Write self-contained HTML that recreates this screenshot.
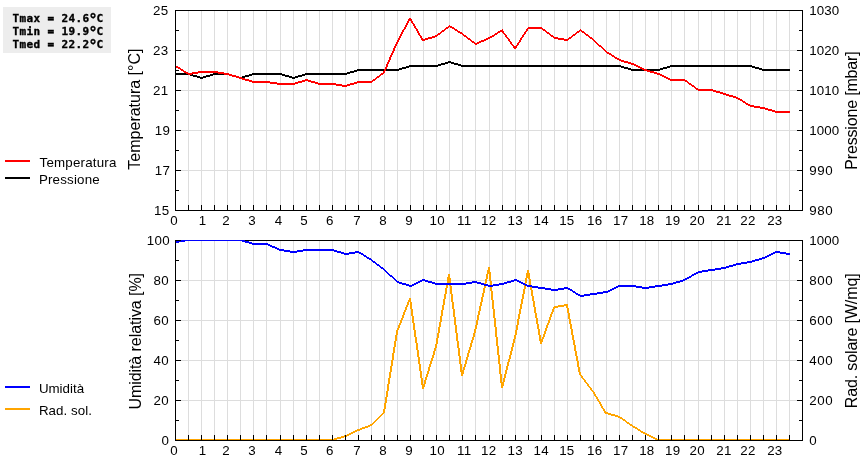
<!DOCTYPE html>
<html lang="it">
<head>
<meta charset="utf-8">
<title>Grafico meteo giornaliero</title>
<style>
html,body{margin:0;padding:0;background:#fff;}
body{width:860px;height:460px;overflow:hidden;}
svg{display:block;}
text{font-family:"Liberation Sans",Arial,Helvetica,sans-serif;fill:#000;}
.tl text{font-size:13.33px;letter-spacing:0.3px;}
.ti{font-size:16px;}
.dg{font-size:15px;}
.st{font-family:"DejaVu Sans Mono","Liberation Mono",monospace;font-size:11.0px;font-weight:bold;stroke:#000;stroke-width:0.35px;}
</style>
</head>
<body>
<svg width="860" height="460" viewBox="0 0 860 460">
<rect width="860" height="460" fill="#ffffff"/>
<rect x="3" y="7" width="108" height="46" fill="#ededed" shape-rendering="crispEdges"/>
<text class="st" x="12.6 19.6 26.6 33.6 40.6 47.6 54.6 61.6 68.6 75.6 82.6 89.6 96.6" y="22.00" xml:space="preserve">Tmax = 24.6<tspan class="dg" dx="-1.00" dy="2.60">°</tspan><tspan dy="-2.60">C</tspan></text>
<text class="st" x="12.6 19.6 26.6 33.6 40.6 47.6 54.6 61.6 68.6 75.6 82.6 89.6 96.6" y="35.00" xml:space="preserve">Tmin = 19.9<tspan class="dg" dx="-1.00" dy="2.60">°</tspan><tspan dy="-2.60">C</tspan></text>
<text class="st" x="12.6 19.6 26.6 33.6 40.6 47.6 54.6 61.6 68.6 75.6 82.6 89.6 96.6" y="48.00" xml:space="preserve">Tmed = 22.2<tspan class="dg" dx="-1.00" dy="2.60">°</tspan><tspan dy="-2.60">C</tspan></text>
<g shape-rendering="crispEdges">
<path fill="#dddddd" d="M188 11h1v199h-1zM201 11h1v199h-1zM214 11h1v199h-1zM227 11h1v199h-1zM240 11h1v199h-1zM253 11h1v199h-1zM266 11h1v199h-1zM280 11h1v199h-1zM293 11h1v199h-1zM306 11h1v199h-1zM319 11h1v199h-1zM332 11h1v199h-1zM345 11h1v199h-1zM358 11h1v199h-1zM371 11h1v199h-1zM384 11h1v199h-1zM397 11h1v199h-1zM410 11h1v199h-1zM423 11h1v199h-1zM436 11h1v199h-1zM449 11h1v199h-1zM462 11h1v199h-1zM475 11h1v199h-1zM489 11h1v199h-1zM502 11h1v199h-1zM515 11h1v199h-1zM528 11h1v199h-1zM541 11h1v199h-1zM554 11h1v199h-1zM567 11h1v199h-1zM580 11h1v199h-1zM593 11h1v199h-1zM606 11h1v199h-1zM619 11h1v199h-1zM632 11h1v199h-1zM645 11h1v199h-1zM658 11h1v199h-1zM671 11h1v199h-1zM684 11h1v199h-1zM698 11h1v199h-1zM711 11h1v199h-1zM724 11h1v199h-1zM737 11h1v199h-1zM750 11h1v199h-1zM763 11h1v199h-1zM776 11h1v199h-1zM789 11h1v199h-1zM176 50h626v1h-626zM176 90h626v1h-626zM176 130h626v1h-626zM176 170h626v1h-626z"/>
<rect x="175" y="10" width="628" height="1" fill="#000"/>
<path fill="#000000" d="M175 73h15v1h-15zM175 74h18v1h-18zM190 75h7v1h-7zM193 76h7v1h-7zM197 77h9v1h-9zM200 78h3v1h-3zM203 76h7v1h-7zM206 75h7v1h-7zM210 74h22v1h-22zM213 73h16v1h-16zM229 75h7v1h-7zM232 76h7v1h-7zM236 77h9v1h-9zM239 78h3v1h-3zM242 76h7v1h-7zM245 75h7v1h-7zM249 74h36v1h-36zM252 73h30v1h-30zM282 75h7v1h-7zM285 76h7v1h-7zM289 77h9v1h-9zM292 78h3v1h-3zM295 76h7v1h-7zM298 75h7v1h-7zM302 74h45v1h-45zM305 73h45v1h-45zM347 72h7v1h-7zM350 71h7v1h-7zM354 70h45v1h-45zM357 69h45v1h-45zM399 68h7v1h-7zM402 67h7v1h-7zM406 66h32v1h-32zM409 65h32v1h-32zM438 64h7v1h-7zM441 63h7v1h-7zM445 62h9v1h-9zM448 61h3v1h-3zM451 63h7v1h-7zM454 64h7v1h-7zM458 65h163v1h-163zM461 66h163v1h-163zM621 67h7v1h-7zM624 68h7v1h-7zM628 69h35v1h-35zM631 70h29v1h-29zM660 68h7v1h-7zM663 67h7v1h-7zM667 66h88v1h-88zM670 65h82v1h-82zM752 67h7v1h-7zM755 68h7v1h-7zM759 69h31v1h-31zM762 70h28v1h-28z"/>
<path fill="#ff0000" d="M175 65h1v1h-1zM175 66h3v1h-3zM176 67h4v1h-4zM178 68h3v1h-3zM180 69h3v1h-3zM181 70h3v1h-3zM183 71h3v1h-3zM184 72h4v1h-4zM186 73h12v1h-12zM188 74h4v1h-4zM192 72h32v1h-32zM198 71h20v1h-20zM218 73h11v1h-11zM224 74h8v1h-8zM229 75h7v1h-7zM232 76h7v1h-7zM236 77h6v1h-6zM239 78h6v1h-6zM242 79h7v1h-7zM245 80h7v1h-7zM249 81h21v1h-21zM252 82h25v1h-25zM270 83h28v1h-28zM277 84h18v1h-18zM295 82h7v1h-7zM298 81h7v1h-7zM302 80h9v1h-9zM305 79h3v1h-3zM308 81h7v1h-7zM311 82h7v1h-7zM315 83h21v1h-21zM318 84h24v1h-24zM336 85h14v1h-14zM342 86h5v1h-5zM347 84h7v1h-7zM350 83h7v1h-7zM354 82h18v1h-18zM357 81h16v1h-16zM372 80h3v1h-3zM373 79h3v1h-3zM375 78h2v1h-2zM376 77h3v1h-3zM377 76h3v1h-3zM379 75h2v1h-2zM380 74h3v1h-3zM381 73h3v1h-3zM383 71h2v2h-2zM384 69h2v2h-2zM385 67h2v2h-2zM386 64h2v3h-2zM387 62h2v2h-2zM388 60h2v2h-2zM389 57h2v3h-2zM390 55h2v2h-2zM391 53h2v2h-2zM392 51h2v2h-2zM393 48h2v3h-2zM394 46h2v2h-2zM395 44h2v2h-2zM396 42h2v2h-2zM397 40h2v2h-2zM398 38h2v2h-2zM399 36h2v2h-2zM400 34h2v2h-2zM401 32h2v2h-2zM402 30h2v2h-2zM403 29h2v1h-2zM404 27h2v2h-2zM405 25h2v2h-2zM406 23h2v2h-2zM407 21h2v2h-2zM408 19h4v2h-4zM409 18h2v1h-2zM411 21h2v2h-2zM412 23h2v1h-2zM413 24h2v2h-2zM414 26h2v2h-2zM415 28h2v1h-2zM416 29h2v2h-2zM417 31h2v2h-2zM418 33h2v2h-2zM419 35h2v1h-2zM420 36h2v2h-2zM421 38h2v1h-2zM421 39h7v1h-7zM422 40h3v1h-3zM425 38h7v1h-7zM428 37h7v1h-7zM432 36h5v1h-5zM435 35h3v1h-3zM437 34h3v1h-3zM438 33h3v1h-3zM440 32h2v1h-2zM441 31h3v1h-3zM442 30h3v1h-3zM444 29h2v1h-2zM445 28h3v1h-3zM446 27h3v1h-3zM448 26h4v1h-4zM449 25h1v1h-1zM450 27h4v1h-4zM452 28h3v1h-3zM454 29h3v1h-3zM455 30h3v1h-3zM457 31h3v1h-3zM458 32h4v1h-4zM460 33h3v1h-3zM462 34h2v1h-2zM463 35h3v1h-3zM464 36h3v1h-3zM466 37h2v1h-2zM467 38h3v1h-3zM468 39h3v1h-3zM470 40h2v1h-2zM471 41h3v1h-3zM472 42h3v1h-3zM474 43h5v1h-5zM475 44h2v1h-2zM477 42h4v1h-4zM479 41h5v1h-5zM481 40h5v1h-5zM484 39h4v1h-4zM486 38h4v1h-4zM488 37h4v1h-4zM490 36h4v1h-4zM492 35h3v1h-3zM494 34h3v1h-3zM495 33h3v1h-3zM497 32h3v1h-3zM498 31h6v1h-6zM500 30h3v1h-3zM502 29h1v1h-1zM502 32h2v1h-2zM503 33h2v1h-2zM504 34h2v1h-2zM505 35h2v2h-2zM506 37h2v1h-2zM507 38h2v1h-2zM508 39h2v2h-2zM509 41h2v1h-2zM510 42h2v2h-2zM511 44h2v1h-2zM512 45h2v1h-2zM513 46h4v2h-4zM514 48h2v1h-2zM516 45h2v1h-2zM517 43h2v2h-2zM518 42h2v1h-2zM519 40h2v2h-2zM520 38h2v2h-2zM521 37h2v1h-2zM522 35h2v2h-2zM523 34h2v1h-2zM524 32h2v2h-2zM525 31h2v1h-2zM526 29h2v2h-2zM527 28h16v1h-16zM528 27h14v1h-14zM542 29h3v1h-3zM543 30h3v1h-3zM545 31h2v1h-2zM546 32h3v1h-3zM547 33h3v1h-3zM549 34h2v1h-2zM550 35h3v1h-3zM551 36h3v1h-3zM553 37h5v1h-5zM554 38h10v1h-10zM558 39h11v1h-11zM564 40h4v1h-4zM568 38h3v1h-3zM569 37h3v1h-3zM571 36h2v1h-2zM572 35h3v1h-3zM573 34h3v1h-3zM575 33h2v1h-2zM576 32h3v1h-3zM577 31h3v1h-3zM579 30h3v1h-3zM580 29h1v1h-1zM581 31h3v1h-3zM582 32h3v1h-3zM584 33h2v1h-2zM585 34h3v1h-3zM586 35h3v1h-3zM588 36h2v1h-2zM589 37h3v1h-3zM590 38h3v1h-3zM592 39h2v1h-2zM593 40h2v1h-2zM594 41h2v1h-2zM595 42h2v1h-2zM596 43h2v1h-2zM597 44h2v1h-2zM598 45h3v1h-3zM599 46h3v1h-3zM601 47h2v1h-2zM602 48h2v1h-2zM603 49h2v1h-2zM604 50h2v1h-2zM605 51h2v1h-2zM606 52h3v1h-3zM607 53h4v1h-4zM609 54h3v1h-3zM611 55h3v1h-3zM612 56h3v1h-3zM614 57h3v1h-3zM615 58h4v1h-4zM617 59h4v1h-4zM619 60h5v1h-5zM621 61h7v1h-7zM624 62h7v1h-7zM628 63h6v1h-6zM631 64h5v1h-5zM634 65h4v1h-4zM636 66h4v1h-4zM638 67h4v1h-4zM640 68h4v1h-4zM642 69h5v1h-5zM644 70h6v1h-6zM647 71h7v1h-7zM650 72h7v1h-7zM654 73h6v1h-6zM657 74h5v1h-5zM660 75h4v1h-4zM662 76h4v1h-4zM664 77h4v1h-4zM666 78h4v1h-4zM668 79h17v1h-17zM670 80h17v1h-17zM685 81h3v1h-3zM687 82h2v1h-2zM688 83h3v1h-3zM689 84h3v1h-3zM691 85h3v1h-3zM692 86h3v1h-3zM694 87h2v1h-2zM695 88h3v1h-3zM696 89h17v1h-17zM698 90h18v1h-18zM713 91h7v1h-7zM716 92h7v1h-7zM720 93h6v1h-6zM723 94h6v1h-6zM726 95h7v1h-7zM729 96h7v1h-7zM733 97h5v1h-5zM736 98h4v1h-4zM738 99h4v1h-4zM740 100h3v1h-3zM742 101h3v1h-3zM743 102h3v1h-3zM745 103h3v1h-3zM746 104h4v1h-4zM748 105h6v1h-6zM750 106h10v1h-10zM754 107h11v1h-11zM760 108h8v1h-8zM765 109h7v1h-7zM768 110h7v1h-7zM772 111h18v1h-18zM775 112h15v1h-15z"/>
<path fill="#000" d="M175 10h1v201h-1zM802 10h1v201h-1zM175 210h628v1h-628zM188 205h1v5h-1zM201 205h1v5h-1zM214 205h1v5h-1zM227 205h1v5h-1zM240 205h1v5h-1zM253 205h1v5h-1zM266 205h1v5h-1zM280 205h1v5h-1zM293 205h1v5h-1zM306 205h1v5h-1zM319 205h1v5h-1zM332 205h1v5h-1zM345 205h1v5h-1zM358 205h1v5h-1zM371 205h1v5h-1zM384 205h1v5h-1zM397 205h1v5h-1zM410 205h1v5h-1zM423 205h1v5h-1zM436 205h1v5h-1zM449 205h1v5h-1zM462 205h1v5h-1zM475 205h1v5h-1zM489 205h1v5h-1zM502 205h1v5h-1zM515 205h1v5h-1zM528 205h1v5h-1zM541 205h1v5h-1zM554 205h1v5h-1zM567 205h1v5h-1zM580 205h1v5h-1zM593 205h1v5h-1zM606 205h1v5h-1zM619 205h1v5h-1zM632 205h1v5h-1zM645 205h1v5h-1zM658 205h1v5h-1zM671 205h1v5h-1zM684 205h1v5h-1zM698 205h1v5h-1zM711 205h1v5h-1zM724 205h1v5h-1zM737 205h1v5h-1zM750 205h1v5h-1zM763 205h1v5h-1zM776 205h1v5h-1zM789 205h1v5h-1zM176 10h5v1h-5zM797 10h5v1h-5zM176 30h3v1h-3zM799 30h3v1h-3zM176 50h5v1h-5zM797 50h5v1h-5zM176 70h3v1h-3zM799 70h3v1h-3zM176 90h5v1h-5zM797 90h5v1h-5zM176 110h3v1h-3zM799 110h3v1h-3zM176 130h5v1h-5zM797 130h5v1h-5zM176 150h3v1h-3zM799 150h3v1h-3zM176 170h5v1h-5zM797 170h5v1h-5zM176 190h3v1h-3zM799 190h3v1h-3zM176 210h5v1h-5zM797 210h5v1h-5z"/>
</g>
<g class="tl">
<text x="168.50" y="15" text-anchor="end">25</text>
<text x="168.50" y="55" text-anchor="end">23</text>
<text x="168.50" y="95" text-anchor="end">21</text>
<text x="170.30" y="135" text-anchor="end">19</text>
<text x="170.30" y="175" text-anchor="end">17</text>
<text x="169.40" y="215" text-anchor="end">15</text>
<text x="809.20" y="15" style="letter-spacing:0.15px">1030</text>
<text x="809.20" y="55" style="letter-spacing:0.15px">1020</text>
<text x="809.20" y="95" style="letter-spacing:0.15px">1010</text>
<text x="809.20" y="135" style="letter-spacing:0.15px">1000</text>
<text x="809.20" y="175" style="letter-spacing:0.65px">990</text>
<text x="809.20" y="215" style="letter-spacing:0.65px">980</text>
<text x="174.15" y="225" text-anchor="middle">0</text>
<text x="202.55" y="225" text-anchor="middle">1</text>
<text x="226.05" y="225" text-anchor="middle">2</text>
<text x="252.05" y="225" text-anchor="middle">3</text>
<text x="278.55" y="225" text-anchor="middle">4</text>
<text x="304.15" y="225" text-anchor="middle">5</text>
<text x="329.95" y="225" text-anchor="middle">6</text>
<text x="357.05" y="225" text-anchor="middle">7</text>
<text x="383.15" y="225" text-anchor="middle">8</text>
<text x="409.15" y="225" text-anchor="middle">9</text>
<text x="437.15" y="225" text-anchor="middle">10</text>
<text x="464.15" y="225" text-anchor="middle">11</text>
<text x="488.65" y="225" text-anchor="middle">12</text>
<text x="515.15" y="225" text-anchor="middle">13</text>
<text x="541.15" y="225" text-anchor="middle">14</text>
<text x="566.85" y="225" text-anchor="middle">15</text>
<text x="594.75" y="225" text-anchor="middle">16</text>
<text x="620.65" y="225" text-anchor="middle">17</text>
<text x="646.85" y="225" text-anchor="middle">18</text>
<text x="672.65" y="225" text-anchor="middle">19</text>
<text x="697.15" y="225" text-anchor="middle">20</text>
<text x="723.95" y="225" text-anchor="middle">21</text>
<text x="748.05" y="225" text-anchor="middle">22</text>
<text x="774.85" y="225" text-anchor="middle">23</text>
</g>
<text class="ti" text-anchor="middle" style="letter-spacing:0.000px" transform="translate(139.9 109.1) rotate(-90)">Temperatura [°C]</text>
<text class="ti" text-anchor="middle" style="letter-spacing:-0.175px" transform="translate(857.0 110.6) rotate(-90)">Pressione [mbar]</text>
<g shape-rendering="crispEdges">
<path fill="#dddddd" d="M188 241h1v199h-1zM201 241h1v199h-1zM214 241h1v199h-1zM227 241h1v199h-1zM240 241h1v199h-1zM253 241h1v199h-1zM266 241h1v199h-1zM280 241h1v199h-1zM293 241h1v199h-1zM306 241h1v199h-1zM319 241h1v199h-1zM332 241h1v199h-1zM345 241h1v199h-1zM358 241h1v199h-1zM371 241h1v199h-1zM384 241h1v199h-1zM397 241h1v199h-1zM410 241h1v199h-1zM423 241h1v199h-1zM436 241h1v199h-1zM449 241h1v199h-1zM462 241h1v199h-1zM475 241h1v199h-1zM489 241h1v199h-1zM502 241h1v199h-1zM515 241h1v199h-1zM528 241h1v199h-1zM541 241h1v199h-1zM554 241h1v199h-1zM567 241h1v199h-1zM580 241h1v199h-1zM593 241h1v199h-1zM606 241h1v199h-1zM619 241h1v199h-1zM632 241h1v199h-1zM645 241h1v199h-1zM658 241h1v199h-1zM671 241h1v199h-1zM684 241h1v199h-1zM698 241h1v199h-1zM711 241h1v199h-1zM724 241h1v199h-1zM737 241h1v199h-1zM750 241h1v199h-1zM763 241h1v199h-1zM776 241h1v199h-1zM789 241h1v199h-1zM176 280h626v1h-626zM176 320h626v1h-626zM176 360h626v1h-626zM176 400h626v1h-626z"/>
<rect x="175" y="240" width="628" height="1" fill="#000"/>
<path fill="#ffa500" d="M175 440h159v1h-159zM175 439h162v1h-162zM334 438h7v1h-7zM337 437h7v1h-7zM341 436h6v1h-6zM344 435h5v1h-5zM347 434h4v1h-4zM349 433h4v1h-4zM351 432h4v1h-4zM353 431h4v1h-4zM355 430h5v1h-5zM357 429h5v1h-5zM360 428h5v1h-5zM362 427h6v1h-6zM365 426h5v1h-5zM368 425h4v1h-4zM370 424h3v1h-3zM372 423h2v1h-2zM373 422h2v1h-2zM374 421h2v1h-2zM375 420h2v1h-2zM376 419h2v1h-2zM377 418h2v1h-2zM378 417h2v1h-2zM379 416h2v1h-2zM380 415h2v1h-2zM381 414h2v1h-2zM382 413h2v1h-2zM383 409h2v4h-2zM384 403h2v6h-2zM385 397h2v6h-2zM386 391h2v6h-2zM387 384h2v7h-2zM388 378h2v6h-2zM389 372h2v6h-2zM390 366h2v6h-2zM391 360h2v6h-2zM392 353h2v7h-2zM393 347h2v6h-2zM394 341h2v6h-2zM395 335h2v6h-2zM396 330h2v5h-2zM397 328h2v2h-2zM398 325h2v3h-2zM399 323h2v2h-2zM400 320h2v3h-2zM401 318h2v2h-2zM402 315h2v3h-2zM403 312h2v3h-2zM404 310h2v2h-2zM405 307h2v3h-2zM406 305h2v2h-2zM407 302h2v3h-2zM408 300h3v2h-3zM409 298h2v2h-2zM410 302h2v7h-2zM411 309h2v7h-2zM412 316h2v7h-2zM413 323h2v7h-2zM414 330h2v7h-2zM415 337h2v6h-2zM416 343h2v7h-2zM417 350h2v7h-2zM418 357h2v7h-2zM419 364h2v7h-2zM420 371h2v7h-2zM421 378h2v6h-2zM421 384h4v1h-4zM422 387h2v2h-2zM422 385h3v2h-3zM424 380h2v4h-2zM425 377h2v3h-2zM426 374h2v3h-2zM427 371h2v3h-2zM428 367h2v4h-2zM429 364h2v3h-2zM430 361h2v3h-2zM431 358h2v3h-2zM432 355h2v3h-2zM433 351h2v4h-2zM434 348h2v3h-2zM435 344h2v4h-2zM436 338h2v6h-2zM437 333h2v5h-2zM438 327h2v6h-2zM439 322h2v5h-2zM440 316h2v6h-2zM441 310h2v6h-2zM442 305h2v5h-2zM443 299h2v6h-2zM444 294h2v5h-2zM445 288h2v6h-2zM446 283h2v5h-2zM447 277h3v1h-3zM447 278h4v5h-4zM448 274h2v3h-2zM449 283h2v3h-2zM450 286h2v8h-2zM451 294h2v8h-2zM452 302h2v7h-2zM453 309h2v8h-2zM454 317h2v8h-2zM455 325h2v8h-2zM456 333h2v8h-2zM457 341h2v7h-2zM458 348h2v8h-2zM459 356h2v8h-2zM460 364h2v6h-2zM460 370h4v2h-4zM461 374h2v2h-2zM461 372h3v2h-3zM463 367h2v3h-2zM464 364h2v3h-2zM465 360h2v4h-2zM466 357h2v3h-2zM467 353h2v4h-2zM468 350h2v3h-2zM469 347h2v3h-2zM470 343h2v4h-2zM471 340h2v3h-2zM472 337h2v3h-2zM473 333h2v4h-2zM474 329h2v4h-2zM475 325h2v4h-2zM476 320h2v5h-2zM477 315h2v5h-2zM478 311h2v4h-2zM479 306h2v5h-2zM480 302h2v4h-2zM481 297h2v5h-2zM482 293h2v4h-2zM483 288h2v5h-2zM484 283h2v5h-2zM485 279h2v4h-2zM486 274h2v5h-2zM487 270h3v2h-3zM487 272h4v2h-4zM488 267h2v3h-2zM489 274h2v7h-2zM490 281h2v10h-2zM491 291h2v9h-2zM492 300h2v9h-2zM493 309h2v9h-2zM494 318h2v9h-2zM495 327h2v10h-2zM496 337h2v9h-2zM497 346h2v9h-2zM498 355h2v9h-2zM499 364h2v10h-2zM500 374h2v8h-2zM500 382h4v1h-4zM501 386h2v2h-2zM501 383h3v3h-3zM503 378h2v4h-2zM504 374h2v4h-2zM505 370h2v4h-2zM506 366h2v4h-2zM507 362h2v4h-2zM508 359h2v3h-2zM509 355h2v4h-2zM510 351h2v4h-2zM511 347h2v4h-2zM512 343h2v4h-2zM513 339h2v4h-2zM514 335h2v4h-2zM515 330h2v5h-2zM516 325h2v5h-2zM517 319h2v6h-2zM518 314h2v5h-2zM519 309h2v5h-2zM520 304h2v5h-2zM521 299h2v5h-2zM522 294h2v5h-2zM523 289h2v5h-2zM524 283h2v6h-2zM525 278h2v5h-2zM526 273h4v5h-4zM527 270h2v3h-2zM528 278h2v1h-2zM529 279h2v6h-2zM530 285h2v5h-2zM531 290h2v6h-2zM532 296h2v5h-2zM533 301h2v6h-2zM534 307h2v6h-2zM535 313h2v5h-2zM536 318h2v6h-2zM537 324h2v5h-2zM538 329h2v6h-2zM539 335h2v4h-2zM539 339h4v2h-4zM540 342h2v2h-2zM540 341h3v1h-3zM542 337h2v2h-2zM543 334h2v3h-2zM544 331h2v3h-2zM545 328h2v3h-2zM546 325h2v3h-2zM547 323h2v2h-2zM548 320h2v3h-2zM549 317h2v3h-2zM550 314h2v3h-2zM551 312h2v2h-2zM552 309h2v3h-2zM553 308h2v1h-2zM553 307h5v1h-5zM554 306h10v1h-10zM558 305h10v1h-10zM564 304h4v1h-4zM566 306h2v2h-2zM567 308h2v5h-2zM568 313h2v6h-2zM569 319h2v5h-2zM570 324h2v5h-2zM571 329h2v6h-2zM572 335h2v5h-2zM573 340h2v5h-2zM574 345h2v6h-2zM575 351h2v5h-2zM576 356h2v5h-2zM577 361h2v6h-2zM578 367h2v5h-2zM579 372h2v3h-2zM580 375h2v1h-2zM581 376h2v2h-2zM582 378h2v1h-2zM583 379h2v1h-2zM584 380h2v2h-2zM585 382h2v1h-2zM586 383h2v1h-2zM587 384h2v2h-2zM588 386h2v1h-2zM589 387h2v1h-2zM590 388h2v2h-2zM591 390h2v1h-2zM592 391h2v1h-2zM593 392h2v2h-2zM594 394h2v2h-2zM595 396h2v1h-2zM596 397h2v2h-2zM597 399h2v2h-2zM598 401h2v1h-2zM599 402h2v2h-2zM600 404h2v2h-2zM601 406h2v2h-2zM602 408h2v1h-2zM603 409h2v2h-2zM604 411h2v1h-2zM604 412h4v1h-4zM605 413h6v1h-6zM608 414h7v1h-7zM611 415h7v1h-7zM615 416h5v1h-5zM618 417h4v1h-4zM620 418h3v1h-3zM622 419h3v1h-3zM623 420h3v1h-3zM625 421h2v1h-2zM626 422h3v1h-3zM627 423h3v1h-3zM629 424h3v1h-3zM630 425h3v1h-3zM632 426h3v1h-3zM633 427h4v1h-4zM635 428h3v1h-3zM637 429h3v1h-3zM638 430h3v1h-3zM640 431h3v1h-3zM641 432h4v1h-4zM643 433h4v1h-4zM645 434h4v1h-4zM647 435h4v1h-4zM649 436h4v1h-4zM651 437h4v1h-4zM653 438h4v1h-4zM655 439h135v1h-135zM657 440h133v1h-133z"/>
<path fill="#0000ff" d="M175 242h4v1h-4zM175 241h10v1h-10zM179 240h66v1h-66zM242 241h7v1h-7zM245 242h7v1h-7zM249 243h19v1h-19zM252 244h18v1h-18zM268 245h4v1h-4zM270 246h5v1h-5zM272 247h5v1h-5zM275 248h4v1h-4zM277 249h7v1h-7zM279 250h11v1h-11zM284 251h19v1h-19zM290 252h7v1h-7zM297 250h40v1h-40zM303 249h31v1h-31zM334 251h7v1h-7zM337 252h7v1h-7zM341 253h14v1h-14zM344 254h5v1h-5zM349 252h12v1h-12zM355 251h4v1h-4zM359 253h4v1h-4zM361 254h3v1h-3zM363 255h3v1h-3zM364 256h3v1h-3zM366 257h3v1h-3zM367 258h4v1h-4zM369 259h3v1h-3zM371 260h2v1h-2zM372 261h3v1h-3zM373 262h3v1h-3zM375 263h2v1h-2zM376 264h3v1h-3zM377 265h3v1h-3zM379 266h2v1h-2zM380 267h3v1h-3zM381 268h3v1h-3zM383 269h2v1h-2zM384 270h2v1h-2zM385 271h2v1h-2zM386 272h2v1h-2zM387 273h2v1h-2zM388 274h2v1h-2zM389 275h3v1h-3zM390 276h3v1h-3zM392 277h2v1h-2zM393 278h2v1h-2zM394 279h2v1h-2zM395 280h2v1h-2zM396 281h3v1h-3zM397 282h5v1h-5zM399 283h7v1h-7zM402 284h7v1h-7zM406 285h8v1h-8zM409 286h3v1h-3zM412 284h4v1h-4zM414 283h4v1h-4zM416 282h4v1h-4zM418 281h4v1h-4zM420 280h8v1h-8zM422 279h3v1h-3zM425 281h7v1h-7zM428 282h7v1h-7zM432 283h40v1h-40zM435 284h31v1h-31zM466 282h15v1h-15zM472 281h5v1h-5zM477 283h7v1h-7zM481 284h7v1h-7zM484 285h15v1h-15zM488 286h5v1h-5zM493 284h11v1h-11zM499 283h8v1h-8zM504 282h7v1h-7zM507 281h7v1h-7zM511 280h8v1h-8zM514 279h3v1h-3zM517 281h4v1h-4zM519 282h4v1h-4zM521 283h4v1h-4zM523 284h4v1h-4zM525 285h7v1h-7zM527 286h11v1h-11zM532 287h13v1h-13zM538 288h13v1h-13zM545 289h19v1h-19zM551 290h7v1h-7zM558 288h12v1h-12zM564 287h4v1h-4zM568 289h4v1h-4zM570 290h3v1h-3zM572 291h3v1h-3zM573 292h3v1h-3zM575 293h3v1h-3zM576 294h4v1h-4zM578 295h12v1h-12zM580 296h4v1h-4zM584 294h13v1h-13zM590 293h13v1h-13zM597 292h11v1h-11zM603 291h7v1h-7zM608 290h4v1h-4zM610 289h4v1h-4zM612 288h4v1h-4zM614 287h4v1h-4zM616 286h26v1h-26zM618 285h18v1h-18zM636 287h19v1h-19zM642 288h7v1h-7zM649 286h13v1h-13zM655 285h13v1h-13zM662 284h11v1h-11zM668 283h8v1h-8zM673 282h7v1h-7zM676 281h7v1h-7zM680 280h5v1h-5zM683 279h4v1h-4zM685 278h4v1h-4zM687 277h4v1h-4zM689 276h3v1h-3zM691 275h3v1h-3zM692 274h4v1h-4zM694 273h4v1h-4zM696 272h6v1h-6zM698 271h10v1h-10zM702 270h13v1h-13zM708 269h13v1h-13zM715 268h11v1h-11zM721 267h8v1h-8zM726 266h7v1h-7zM729 265h7v1h-7zM733 264h8v1h-8zM736 263h11v1h-11zM741 262h11v1h-11zM747 261h8v1h-8zM752 260h7v1h-7zM755 259h7v1h-7zM759 258h6v1h-6zM762 257h5v1h-5zM765 256h4v1h-4zM767 255h4v1h-4zM769 254h4v1h-4zM771 253h4v1h-4zM773 252h13v1h-13zM775 251h5v1h-5zM780 253h10v1h-10zM786 254h4v1h-4z"/>
<path fill="#000" d="M175 240h1v201h-1zM802 240h1v201h-1zM175 440h628v1h-628zM188 435h1v5h-1zM201 435h1v5h-1zM214 435h1v5h-1zM227 435h1v5h-1zM240 435h1v5h-1zM253 435h1v5h-1zM266 435h1v5h-1zM280 435h1v5h-1zM293 435h1v5h-1zM306 435h1v5h-1zM319 435h1v5h-1zM332 435h1v5h-1zM345 435h1v5h-1zM358 435h1v5h-1zM371 435h1v5h-1zM384 435h1v5h-1zM397 435h1v5h-1zM410 435h1v5h-1zM423 435h1v5h-1zM436 435h1v5h-1zM449 435h1v5h-1zM462 435h1v5h-1zM475 435h1v5h-1zM489 435h1v5h-1zM502 435h1v5h-1zM515 435h1v5h-1zM528 435h1v5h-1zM541 435h1v5h-1zM554 435h1v5h-1zM567 435h1v5h-1zM580 435h1v5h-1zM593 435h1v5h-1zM606 435h1v5h-1zM619 435h1v5h-1zM632 435h1v5h-1zM645 435h1v5h-1zM658 435h1v5h-1zM671 435h1v5h-1zM684 435h1v5h-1zM698 435h1v5h-1zM711 435h1v5h-1zM724 435h1v5h-1zM737 435h1v5h-1zM750 435h1v5h-1zM763 435h1v5h-1zM776 435h1v5h-1zM789 435h1v5h-1zM176 240h5v1h-5zM797 240h5v1h-5zM176 260h3v1h-3zM799 260h3v1h-3zM176 280h5v1h-5zM797 280h5v1h-5zM176 300h3v1h-3zM799 300h3v1h-3zM176 320h5v1h-5zM797 320h5v1h-5zM176 340h3v1h-3zM799 340h3v1h-3zM176 360h5v1h-5zM797 360h5v1h-5zM176 380h3v1h-3zM799 380h3v1h-3zM176 400h5v1h-5zM797 400h5v1h-5zM176 420h3v1h-3zM799 420h3v1h-3zM176 440h5v1h-5zM797 440h5v1h-5z"/>
</g>
<g class="tl">
<text x="169.90" y="245" text-anchor="end">100</text>
<text x="169.00" y="285" text-anchor="end">80</text>
<text x="169.00" y="325" text-anchor="end">60</text>
<text x="169.00" y="365" text-anchor="end">40</text>
<text x="169.00" y="405" text-anchor="end">20</text>
<text x="169.30" y="445" text-anchor="end">0</text>
<text x="809.20" y="245" style="letter-spacing:0.15px">1000</text>
<text x="809.20" y="285" style="letter-spacing:0.65px">800</text>
<text x="809.20" y="325" style="letter-spacing:0.65px">600</text>
<text x="809.20" y="365" style="letter-spacing:0.65px">400</text>
<text x="809.20" y="405" style="letter-spacing:0.65px">200</text>
<text x="809.20" y="445">0</text>
<text x="174.15" y="455" text-anchor="middle">0</text>
<text x="202.55" y="455" text-anchor="middle">1</text>
<text x="226.05" y="455" text-anchor="middle">2</text>
<text x="252.05" y="455" text-anchor="middle">3</text>
<text x="278.55" y="455" text-anchor="middle">4</text>
<text x="304.15" y="455" text-anchor="middle">5</text>
<text x="329.95" y="455" text-anchor="middle">6</text>
<text x="357.05" y="455" text-anchor="middle">7</text>
<text x="383.15" y="455" text-anchor="middle">8</text>
<text x="409.15" y="455" text-anchor="middle">9</text>
<text x="437.15" y="455" text-anchor="middle">10</text>
<text x="464.15" y="455" text-anchor="middle">11</text>
<text x="488.65" y="455" text-anchor="middle">12</text>
<text x="515.15" y="455" text-anchor="middle">13</text>
<text x="541.15" y="455" text-anchor="middle">14</text>
<text x="566.85" y="455" text-anchor="middle">15</text>
<text x="594.75" y="455" text-anchor="middle">16</text>
<text x="620.65" y="455" text-anchor="middle">17</text>
<text x="646.85" y="455" text-anchor="middle">18</text>
<text x="672.65" y="455" text-anchor="middle">19</text>
<text x="697.15" y="455" text-anchor="middle">20</text>
<text x="723.95" y="455" text-anchor="middle">21</text>
<text x="748.05" y="455" text-anchor="middle">22</text>
<text x="774.85" y="455" text-anchor="middle">23</text>
</g>
<text class="ti" text-anchor="middle" style="letter-spacing:-0.060px" transform="translate(141.0 341.3) rotate(-90)">Umidità relativa [%]</text>
<text class="ti" text-anchor="middle" style="letter-spacing:-0.117px" transform="translate(857.0 340.9) rotate(-90)">Rad. solare [W/mq]</text>
<g shape-rendering="crispEdges">
<rect x="5" y="160" width="25" height="2" fill="#ff0000"/>
<rect x="5" y="177" width="25" height="2" fill="#000000"/>
<rect x="5" y="386" width="25" height="2" fill="#0000ff"/>
<rect x="5" y="408" width="25" height="2" fill="#ffa500"/>
</g>
<g class="tl">
<text x="39.6" y="167" style="letter-spacing:0.20px">Temperatura</text>
<text x="38.9" y="184" style="letter-spacing:0.20px">Pressione</text>
<text x="38.9" y="393" style="letter-spacing:0.00px">Umidità</text>
<text x="38.9" y="415" style="letter-spacing:0.05px">Rad. sol.</text>
</g>
</svg>
</body>
</html>
